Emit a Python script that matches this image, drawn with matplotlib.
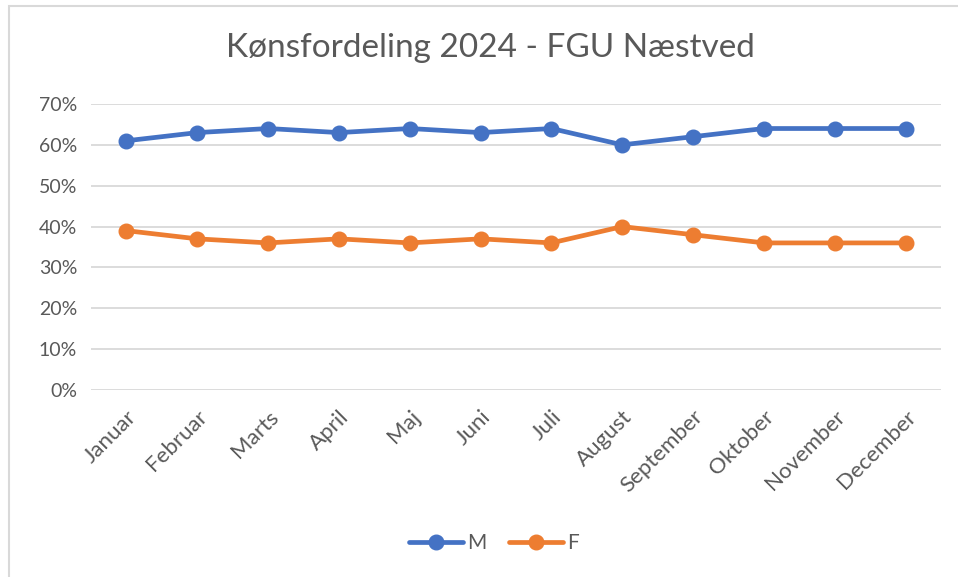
import matplotlib.pyplot as plt
from matplotlib.patches import Rectangle
from matplotlib.ticker import PercentFormatter

# data
months = ["Januar", "Februar", "Marts", "April", "Maj", "Juni", "Juli",
          "August", "September", "Oktober", "November", "December"]
m_share = [61, 63, 64, 63, 64, 63, 64, 60, 62, 64, 64, 64]
f_share = [39, 37, 36, 37, 36, 37, 36, 40, 38, 36, 36, 36]

blue = "#4472C4"
orange = "#ED7D31"
txt = "#595959"

plt.rcParams["font.family"] = ["Lato", "DejaVu Sans"]

fig = plt.figure(figsize=(9.58, 5.77), dpi=100)
ax = fig.add_axes([91 / 958, 1 - 390 / 577, 850 / 958, 286 / 577])

x = range(len(months))
ax.plot(x, m_share, color=blue, lw=3.4, marker="o", ms=10.5, label="M",
        solid_capstyle="round", zorder=3)
ax.plot(x, f_share, color=orange, lw=3.4, marker="o", ms=10.5, label="F",
        solid_capstyle="round", zorder=3)

ax.set_xlim(-0.5, len(months) - 0.5)
ax.set_ylim(0, 70)
ax.set_yticks(range(0, 71, 10))
ax.yaxis.set_major_formatter(PercentFormatter(decimals=0))
ax.set_xticks(list(x))
ax.set_xticklabels(months, rotation=45, ha="right", rotation_mode="anchor")
ax.tick_params(axis="both", length=0, colors=txt)
ax.tick_params(axis="x", pad=12, labelsize=16)
ax.tick_params(axis="y", pad=10, labelsize=14)
ax.grid(axis="y", color="#d9d9d9", lw=1.3)
ax.set_axisbelow(True)
for s in ax.spines.values():
    s.set_visible(False)

fig.suptitle("Kønsfordeling 2024 - FGU Næstved", x=490 / 958, y=1 - 48 / 577,
             va="center", fontsize=24, color=txt)

fig.legend(loc="center", bbox_to_anchor=(494 / 958, 1 - 543 / 577), ncol=2,
           frameon=False, fontsize=15, labelcolor=txt, handlelength=2.6,
           handletextpad=0.2, columnspacing=1.1)

# chart border (only top/left visible in the crop)
fig.patches.append(Rectangle((9 / 958, -0.1), 1.1, 1 - 6 / 577 + 0.1,
                             transform=fig.transFigure, fill=False,
                             ec="#d9d9d9", lw=1.5))

fig.savefig("out.png", dpi=100)
